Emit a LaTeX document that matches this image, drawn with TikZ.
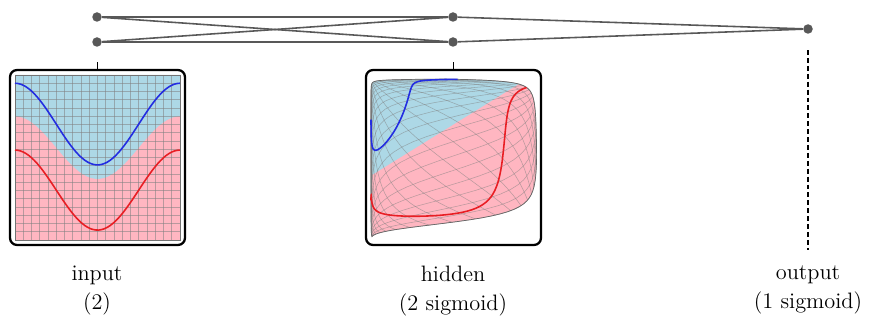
\documentclass[tikz,border=0pt]{standalone}
\usepackage{tikz}
\usetikzlibrary{positioning}
\definecolor{regB}{RGB}{173,216,230}
\definecolor{regR}{RGB}{255,182,193}
\definecolor{curB}{RGB}{35,45,225}
\definecolor{curR}{RGB}{232,30,36}
\definecolor{netG}{RGB}{88,88,88}
% outline of the squashed square in the hidden panel
\newcommand\hidshape{plot[domain=-1:1,samples=30] ({hx(-1,\x)},{hy(-1,\x)})
  -- plot[domain=-1:1,samples=40] ({hx(\x,1)},{hy(\x,1)})
  -- plot[domain=1:-1,samples=40] ({hx(1,\x)},{hy(1,\x)})
  -- plot[domain=1:-1,samples=40] ({hx(\x,-1)},{hy(\x,-1)}) -- cycle}

\begin{document}
\begin{tikzpicture}[x=0.02cm,y=-0.02cm,
  unit/.style={circle,fill=netG,inner sep=0pt,minimum size=0.19cm},
  wire/.style={netG,line width=0.9pt},
  panel/.style={draw,line width=1.3pt,rounded corners=4pt,minimum size=3.5cm,inner sep=0pt},
  mesh/.style={black!50,line width=0.3pt,opacity=0.55},
  lbl/.style={font=\fontsize{12.7}{16.5}\selectfont,align=center,anchor=north},
  declare function={sg(\z)=1/(1+exp(-max(-9,min(9,\z))));
    hx(\x,\y)=371+166*sg(5.7*\x-3.23*\y-2.7);
    hy(\x,\y)=240-162*sg(1.95*\x+2.5*\y+0.6);
    ix(\x)=97.5+82.5*\x; iy(\y)=157.5-82.5*\y;
    bump(\x)=(1+cos(180*\x))/2;}]
\useasboundingbox (0,0) rectangle (873,324);

% network
\node[unit] (in1) at (97,17) {};
\node[unit] (in2) at (97,42) {};
\node[unit] (hid1) at (453,17) {};
\node[unit] (hid2) at (453,42) {};
\node[unit] (out) at (808,29) {};
\foreach \a in {in1,in2} \foreach \b in {hid1,hid2} \draw[wire] (\a) -- (\b);
\foreach \b in {hid1,hid2} \draw[wire] (\b) -- (out);

% input panel
\fill[regR] (15,75) rectangle (180,240);
\fill[regB] (15,75) -- plot[domain=-1:1,samples=40] ({ix(\x)},{iy(0.5-0.76*bump(\x))}) -- (180,75) -- cycle;
\foreach \k in {0,...,20} {
  \draw[mesh] ({15+8.25*\k},75) -- ({15+8.25*\k},240);
  \draw[mesh] (15,{75+8.25*\k}) -- (180,{75+8.25*\k});
}
\draw[black!55,line width=0.3pt] (15,75) rectangle (180,240);
\draw[curB,line width=0.9pt] plot[domain=-1:1,samples=60] ({ix(\x)},{iy(0.9-0.99*bump(\x))});
\draw[curR,line width=0.9pt] plot[domain=-1:1,samples=60] ({ix(\x)},{iy(0.09-0.97*bump(\x))});
\node[panel] (inbox) at (97.5,157.5) {};
\draw[line width=0.6pt] (inbox.north) -- ++(0,-7);

% hidden panel
\fill[regR] \hidshape;
\begin{scope}
\clip \hidshape;
\fill[regB] (360,182.4) -- (545,67.7) -- (545,60) -- (360,60) -- cycle;
\end{scope}
\foreach \k in {0,...,20} {
  \pgfmathsetmacro\w{-1+\k/10}
  \draw[mesh] plot[domain=-1:1,samples=30] ({hx(\w,\x)},{hy(\w,\x)});
  \draw[mesh] plot[domain=-1:1,samples=30] ({hx(\x,\w)},{hy(\x,\w)});
}
\draw[black!60,line width=0.4pt] \hidshape;
\draw[curB,line width=0.9pt] plot[domain=-1:1,samples=90] ({hx(\x,0.9-0.99*bump(\x))},{hy(\x,0.9-0.99*bump(\x))});
\draw[curR,line width=0.9pt] plot[domain=-1:1,samples=90] ({hx(\x,0.09-0.97*bump(\x))},{hy(\x,0.09-0.97*bump(\x))});
\node[panel] (hidbox) at (453.5,157.5) {};
\draw[line width=0.6pt] (hidbox.north) -- ++(0,-7);

% labels
\node[lbl] (inlbl) at (97,260) {input\\(2)};
\node[lbl] (hidlbl) at (453,260) {hidden\\(2 sigmoid)};
\node[lbl] (outlbl) at (808,260) {output\\(1 sigmoid)};
\draw[line width=0.8pt,dash pattern=on 2.8pt off 1.7pt,shorten <=0.32cm,shorten >=0.2cm] (out) -- (outlbl);
\end{tikzpicture}
\end{document}
